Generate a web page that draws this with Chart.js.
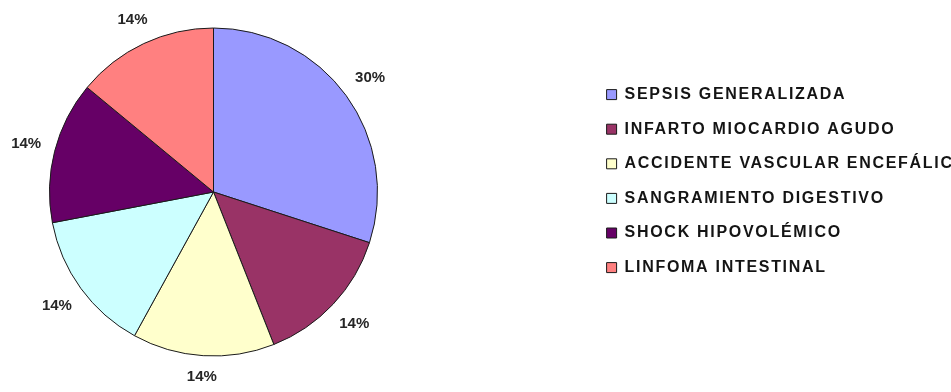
<!DOCTYPE html>
<html>
<head>
<meta charset="utf-8">
<script src="https://cdn.jsdelivr.net/npm/chart.js@4.4.1/dist/chart.umd.min.js"></script>
<style>
  html, body { margin: 0; padding: 0; background: #fff; }
  #wrap { width: 951px; height: 392px; position: relative; }
</style>
</head>
<body>
<div id="wrap"><canvas id="causas"></canvas></div>
<script>
const CAUSAS = [
  "SEPSIS GENERALIZADA",
  "INFARTO MIOCARDIO AGUDO",
  "ACCIDENTE VASCULAR ENCEFÁLICO",
  "SANGRAMIENTO DIGESTIVO",
  "SHOCK HIPOVOLÉMICO",
  "LINFOMA INTESTINAL",
];
const PORCENTAJES = [30, 14, 14, 14, 14, 14];
const COLORES = ["#9999FF", "#993366", "#FFFFCC", "#CCFFFF", "#660066", "#FF8080"];

const LEGEND_SPACING = "1.7px";
const PIE_AREA_RIGHT = 427; // pie gets the left part only, legend keeps its place further right

// letterSpacing is dropped whenever the canvas gets resized, so set it again before layout and draw
const spacingPlugin = {
  id: "legendSpacing",
  beforeLayout(chart) { chart.ctx.letterSpacing = LEGEND_SPACING; },
  beforeDraw(chart) { chart.ctx.letterSpacing = LEGEND_SPACING; },
};

// narrow the pie's area after the legend has been laid out
const pieArea = {
  id: "pieArea",
  afterLayout(chart) {
    const area = chart.chartArea;
    area.right = PIE_AREA_RIGHT;
    area.width = area.right - area.left;
  },
};

// percentage labels just outside each slice
const outsideLabels = {
  id: "outsideLabels",
  afterDatasetsDraw(chart) {
    const ctx = chart.ctx;
    const meta = chart.getDatasetMeta(0);
    const values = chart.data.datasets[0].data;
    const total = values.reduce((a, b) => a + b, 0);
    ctx.save();
    ctx.letterSpacing = "0px";
    ctx.font = "bold 15px 'Liberation Sans', Arial, sans-serif";
    ctx.fillStyle = "#262626";
    ctx.textAlign = "center";
    ctx.textBaseline = "middle";
    meta.data.forEach((arc, i) => {
      const { x, y, startAngle, endAngle, outerRadius } =
        arc.getProps(["x", "y", "startAngle", "endAngle", "outerRadius"], true);
      const mid = (startAngle + endAngle) / 2;
      const text = Math.round((values[i] / total) * 100) + "%";
      const w = ctx.measureText(text).width;
      const dx = Math.cos(mid);
      const dy = Math.sin(mid);
      const dist = outerRadius + 13 + Math.abs(dx) * w / 2 + Math.abs(dy) * 7.5;
      ctx.fillText(text, x + dx * dist, y + dy * dist);
    });
    ctx.restore();
  },
};

new Chart(document.getElementById("causas"), {
  type: "pie",
  data: {
    labels: CAUSAS,
    datasets: [{
      data: PORCENTAJES,
      backgroundColor: COLORES,
      borderColor: "#1a1a1a",
      borderWidth: 1,
      hoverOffset: 0,
    }],
  },
  options: {
    responsive: true,
    maintainAspectRatio: false,
    animation: false,
    devicePixelRatio: 1,
    radius: 164,
    layout: { padding: { left: 0, right: 0, top: 68, bottom: 76 } },
    plugins: {
      legend: {
        position: "right",
        align: "start",
        maxWidth: 363,
        labels: {
          boxWidth: 10,
          boxHeight: 10,
          padding: 18.6,
          color: "#141414",
          font: { family: "'Liberation Sans', Arial, sans-serif", size: 16, weight: "bold" },
        },
      },
      tooltip: { enabled: false },
    },
  },
  plugins: [spacingPlugin, pieArea, outsideLabels],
});
</script>
</body>
</html>
